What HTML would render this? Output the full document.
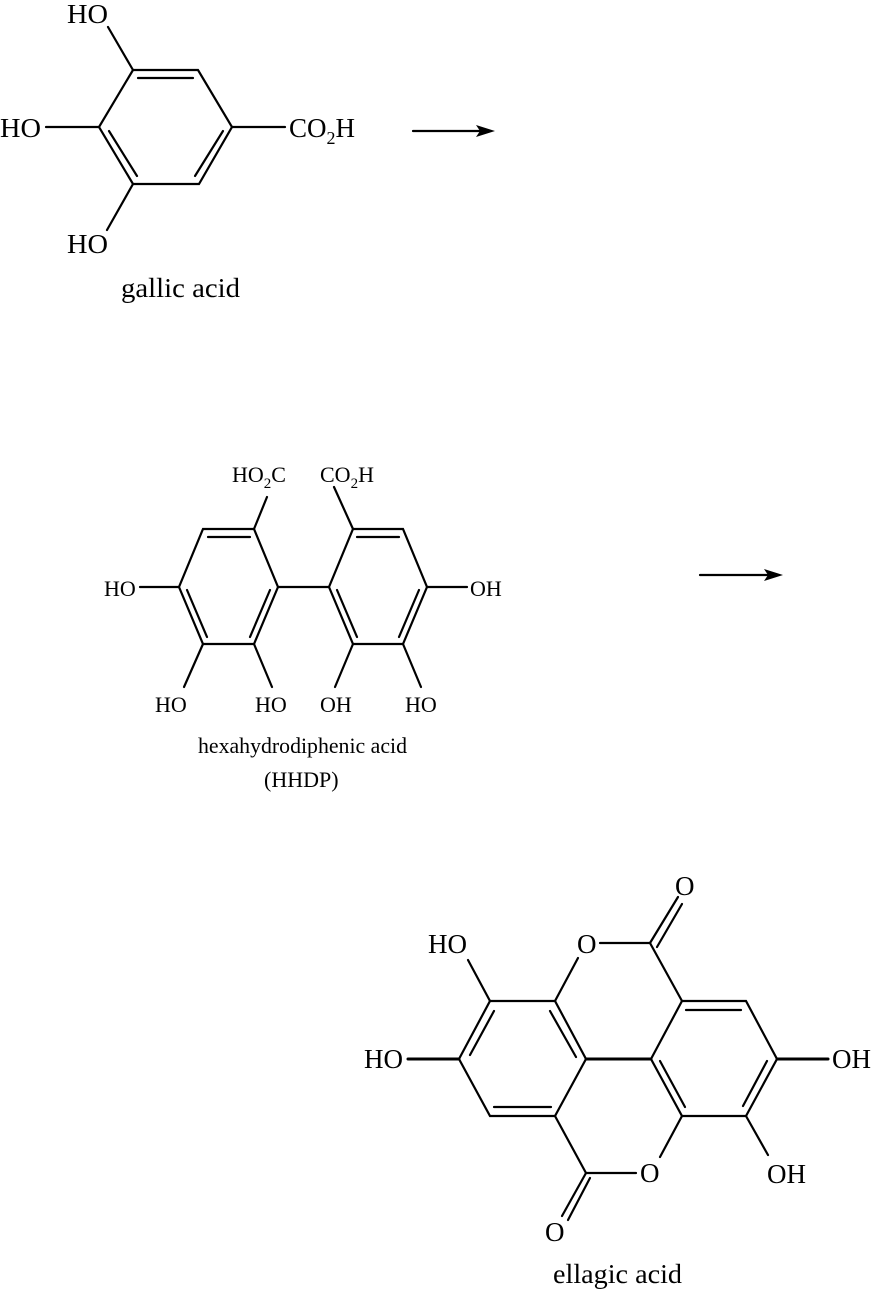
<!DOCTYPE html>
<html><head><meta charset="utf-8"><style>
html,body{margin:0;padding:0;background:#fff}
svg{display:block}
text{font-family:"Liberation Serif",serif;font-size:27px;fill:#000}
.m{font-size:22px}
.s{font-size:18px}
.ss{font-size:15px}
</style></head><body>
<svg width="896" height="1293" viewBox="0 0 896 1293" xmlns="http://www.w3.org/2000/svg">
<g stroke="#000" stroke-width="2.2" fill="none" stroke-linecap="round">
<!-- gallic acid -->
<polygon points="133,70 198,70 232,127 199,184 133,184 99,127"/>
<line x1="138" y1="78" x2="193" y2="78"/>
<line x1="109" y1="131" x2="137" y2="176"/>
<line x1="223" y1="131" x2="195" y2="176"/>
<line x1="133" y1="70" x2="108" y2="27"/>
<line x1="99" y1="127" x2="46" y2="127"/>
<line x1="133" y1="184" x2="107" y2="230"/>
<line x1="232" y1="127" x2="285" y2="127"/>
<line x1="413" y1="131" x2="480" y2="131"/>
<!-- HHDP -->
<polygon points="203,529 254,529 278,587 254,644 203,644 179,587"/>
<polygon points="353,529 403,529 427,587 403,644 353,644 329,587"/>
<line x1="208" y1="537" x2="250" y2="537"/>
<line x1="187" y1="590" x2="207" y2="637"/>
<line x1="270" y1="590" x2="250" y2="637"/>
<line x1="357" y1="537" x2="399" y2="537"/>
<line x1="337" y1="590" x2="357" y2="637"/>
<line x1="419" y1="590" x2="399" y2="637"/>
<line x1="278" y1="587" x2="329" y2="587"/>
<line x1="179" y1="587" x2="140" y2="587"/>
<line x1="427" y1="587" x2="467" y2="587"/>
<line x1="254" y1="529" x2="267" y2="497"/>
<line x1="353" y1="529" x2="334" y2="487"/>
<line x1="203" y1="644" x2="184" y2="687"/>
<line x1="254" y1="644" x2="272" y2="687"/>
<line x1="353" y1="644" x2="335" y2="687"/>
<line x1="403" y1="644" x2="421" y2="687"/>
<line x1="700" y1="575" x2="768" y2="575"/>
<!-- ellagic -->
<polygon points="490,1001 555,1001 586,1059 555,1116 490,1116 459,1059"/>
<polygon points="682,1001 746,1001 777,1059 746,1116 682,1116 651,1059"/>
<line x1="586" y1="1059" x2="651" y2="1059" stroke-width="3"/>
<line x1="494" y1="1011" x2="470" y2="1055"/>
<line x1="494" y1="1107" x2="551" y2="1107"/>
<line x1="550" y1="1011" x2="576" y2="1057"/>
<line x1="686" y1="1010" x2="741" y2="1010"/>
<line x1="660" y1="1061" x2="685" y2="1107"/>
<line x1="767" y1="1061" x2="743" y2="1106"/>
<line x1="555" y1="1001" x2="578" y2="958"/>
<line x1="600" y1="943" x2="650" y2="943"/>
<line x1="650" y1="943" x2="682" y2="1001"/>
<line x1="650" y1="943" x2="678" y2="897"/>
<line x1="657" y1="947" x2="682" y2="904"/>
<line x1="555" y1="1116" x2="586" y2="1173"/>
<line x1="586" y1="1173" x2="636" y2="1173"/>
<line x1="682" y1="1116" x2="660" y2="1157"/>
<line x1="586" y1="1173" x2="562" y2="1216"/>
<line x1="590" y1="1178" x2="568" y2="1220"/>
<line x1="490" y1="1001" x2="468" y2="960"/>
<line x1="459" y1="1059" x2="408" y2="1059" stroke-width="3"/>
<line x1="777" y1="1059" x2="828" y2="1059" stroke-width="3"/>
<line x1="746" y1="1116" x2="768" y2="1155"/>
</g>
<g fill="#000">
<polygon points="495,131 476,125 480,131 476,137"/>
<polygon points="783,575 764,569 768,575 764,581"/>
</g>
<!-- gallic texts -->
<text x="67" y="23" textLength="41" lengthAdjust="spacingAndGlyphs">HO</text>
<text x="0" y="137" textLength="41" lengthAdjust="spacingAndGlyphs">HO</text>
<text x="67" y="253" textLength="41" lengthAdjust="spacingAndGlyphs">HO</text>
<text x="289" y="137">CO<tspan class="s" dy="7">2</tspan><tspan dy="-7">H</tspan></text>
<text x="121" y="297" textLength="119" lengthAdjust="spacingAndGlyphs">gallic acid</text>

<!-- HHDP texts -->
<g class="m">
<text class="m" x="232" y="482">HO<tspan class="ss" dy="6">2</tspan><tspan dy="-6">C</tspan></text>
<text class="m" x="320" y="482">CO<tspan class="ss" dy="6">2</tspan><tspan dy="-6">H</tspan></text>
<text class="m" x="104" y="596">HO</text>
<text class="m" x="470" y="596">OH</text>
<text class="m" x="155" y="712">HO</text>
<text class="m" x="255" y="712">HO</text>
<text class="m" x="320" y="712">OH</text>
<text class="m" x="405" y="712">HO</text>
<text class="m" x="198" y="753" textLength="209" lengthAdjust="spacingAndGlyphs">hexahydrodiphenic acid</text>
<text class="m" x="264" y="787">(HHDP)</text>
</g>

<!-- ellagic texts -->
<text x="675" y="895">O</text>
<text x="428" y="953" textLength="39" lengthAdjust="spacingAndGlyphs">HO</text>
<text x="577" y="953">O</text>
<text x="364" y="1068" textLength="39" lengthAdjust="spacingAndGlyphs">HO</text>
<text x="832" y="1068" textLength="39" lengthAdjust="spacingAndGlyphs">OH</text>
<text x="640" y="1182">O</text>
<text x="767" y="1183" textLength="39" lengthAdjust="spacingAndGlyphs">OH</text>
<text x="545" y="1241">O</text>
<text x="553" y="1283" textLength="129" lengthAdjust="spacingAndGlyphs">ellagic acid</text>
</svg>
</body></html>
